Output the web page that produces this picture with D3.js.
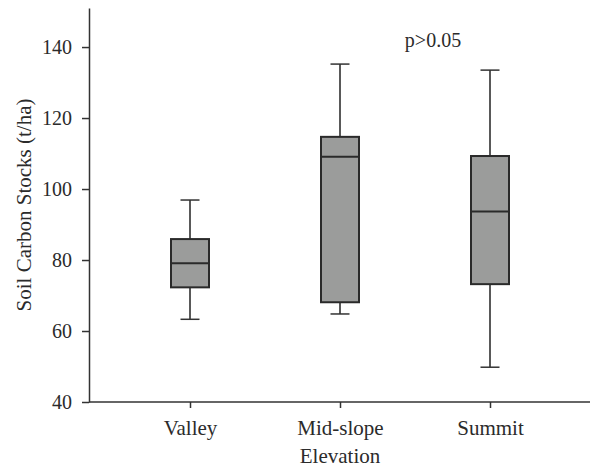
<!DOCTYPE html>
<html>
<head>
<meta charset="utf-8">
<script src="https://cdn.jsdelivr.net/npm/d3@7"></script>
<style>
  body { margin: 0; background: #fff; }
  text { font-family: "Liberation Serif", "DejaVu Serif", serif; fill: #2b2b2b; }
</style>
</head>
<body>
<div id="graph"></div>
<script>
var categories = ["Valley", "Mid-slope", "Summit"];
var whiskerLow = [63.3, 64.8, 49.8];
var q1 = [72.3, 68.1, 73.2];
var median = [79.1, 109.1, 93.7];
var q3 = [85.9, 114.7, 109.3];
var whiskerHigh = [96.9, 135.2, 133.5];
var yTicks = [40, 60, 80, 100, 120, 140];

var width = 590, height = 468;
var axisColor = "#333";

var data = categories.map(function(c, i) {
  return {name: c, lo: whiskerLow[i], q1: q1[i], med: median[i], q3: q3[i], hi: whiskerHigh[i]};
});

var x = d3.scalePoint()
    .domain(categories)
    .range([190, 490]);
var y = d3.scaleLinear()
    .domain([40, 151])
    .range([402, 8]);

var svg = d3.select("#graph").append("svg")
    .attr("width", width)
    .attr("height", height);

// y axis
var yAxis = d3.axisLeft(y).tickValues(yTicks).tickSize(7).tickSizeOuter(0).tickPadding(10);
var gy = svg.append("g")
    .attr("transform", "translate(89,0)")
    .call(yAxis);
gy.select(".domain").attr("stroke", axisColor).attr("stroke-width", 1.5);
gy.selectAll(".tick line").attr("stroke", axisColor).attr("stroke-width", 1.5);
gy.selectAll(".tick text").style("font-size", "20px").style("font-family", null);

// x axis
var xAxis = d3.axisBottom(x).tickSize(6).tickSizeOuter(0).tickPadding(12);
var gx = svg.append("g")
    .attr("transform", "translate(0,402)")
    .call(xAxis);
gx.select(".domain").attr("d", "M89,0H590").attr("stroke", axisColor).attr("stroke-width", 1.5);
gx.selectAll(".tick line").attr("stroke", axisColor).attr("stroke-width", 1.5);
gx.selectAll(".tick text").style("font-size", "21px").style("font-family", null);

// axis titles
svg.append("text")
    .attr("x", 340)
    .attr("y", 463)
    .style("font-size", "21px")
    .style("text-anchor", "middle")
    .text("Elevation");
svg.append("text")
    .attr("transform", "rotate(-90)")
    .attr("x", -205)
    .attr("y", 31)
    .style("font-size", "21px")
    .style("text-anchor", "middle")
    .text("Soil Carbon Stocks (t/ha)");

// boxes
var boxW = 38, capW = 19;
var g = svg.selectAll(".box")
    .data(data)
  .enter().append("g")
    .attr("class", "box");

g.append("line")
    .attr("x1", function(d) { return x(d.name); })
    .attr("x2", function(d) { return x(d.name); })
    .attr("y1", function(d) { return y(d.hi); })
    .attr("y2", function(d) { return y(d.lo); })
    .attr("stroke", "#222")
    .attr("stroke-width", 1.5);
g.selectAll(".cap")
    .data(function(d) { return [{name: d.name, v: d.hi}, {name: d.name, v: d.lo}]; })
  .enter().append("line")
    .attr("class", "cap")
    .attr("x1", function(d) { return x(d.name) - capW / 2; })
    .attr("x2", function(d) { return x(d.name) + capW / 2; })
    .attr("y1", function(d) { return y(d.v); })
    .attr("y2", function(d) { return y(d.v); })
    .attr("stroke", "#333")
    .attr("stroke-width", 1.5);
g.append("rect")
    .attr("x", function(d) { return x(d.name) - boxW / 2; })
    .attr("width", boxW)
    .attr("y", function(d) { return y(d.q3); })
    .attr("height", function(d) { return y(d.q1) - y(d.q3); })
    .attr("fill", "#9b9c9b")
    .attr("stroke", "#2a2a2a")
    .attr("stroke-width", 2);
g.append("line")
    .attr("x1", function(d) { return x(d.name) - boxW / 2; })
    .attr("x2", function(d) { return x(d.name) + boxW / 2; })
    .attr("y1", function(d) { return y(d.med); })
    .attr("y2", function(d) { return y(d.med); })
    .attr("stroke", "#2a2a2a")
    .attr("stroke-width", 2);

svg.append("text")
    .attr("x", 433)
    .attr("y", 47)
    .style("font-size", "20px")
    .style("text-anchor", "middle")
    .text("p>0.05");
</script>
</body>
</html>
